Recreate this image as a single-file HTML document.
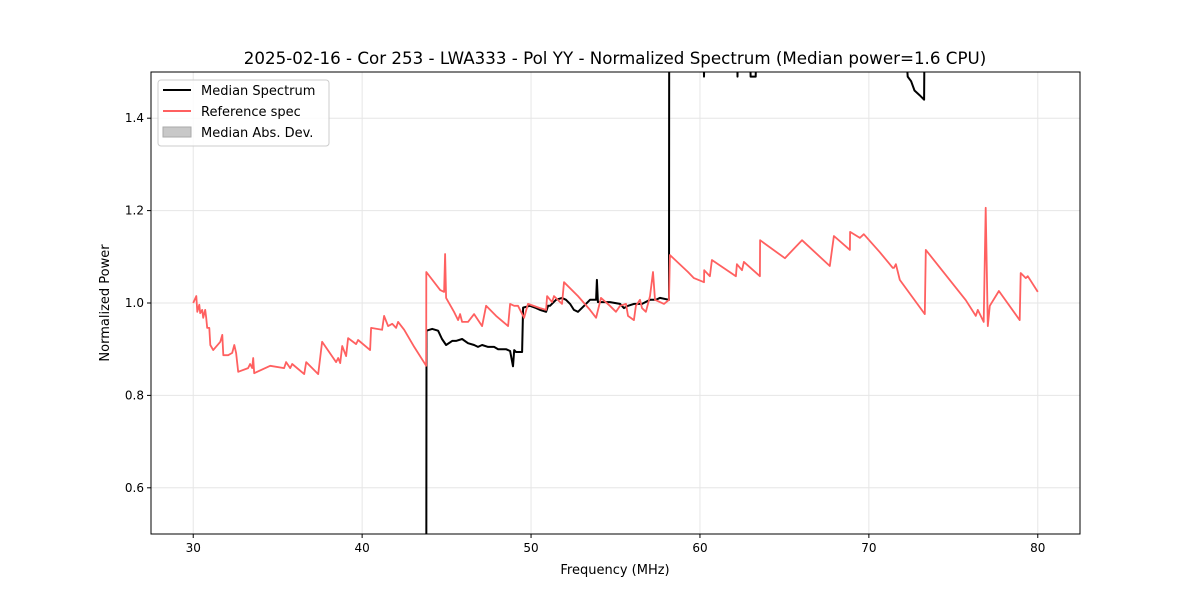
<!DOCTYPE html>
<html><head><meta charset="utf-8"><style>
html,body{margin:0;padding:0;background:#fff;}
svg{display:block;font-family:"DejaVu Sans","Liberation Sans",sans-serif;}
</style></head><body>
<svg id="chart" width="1200" height="600" viewBox="0 0 1200 600" xmlns="http://www.w3.org/2000/svg">
<rect width="1200" height="600" fill="#fff"/>
<defs><clipPath id="plotclip"><rect x="151" y="72" width="929" height="462"/></clipPath></defs>
<g id="grid"></g>
<g id="series" clip-path="url(#plotclip)"></g>
<rect x="151" y="72" width="929" height="462" fill="none" stroke="#000" stroke-width="1"/>
<g id="ticks"></g>
<text x="615" y="64" text-anchor="middle" font-size="16.7">2025-02-16 - Cor 253 - LWA333 - Pol YY - Normalized Spectrum (Median power=1.6 CPU)</text>
<text x="615" y="574" text-anchor="middle" font-size="13">Frequency (MHz)</text>
<text transform="translate(109,303) rotate(-90)" text-anchor="middle" font-size="13">Normalized Power</text>
<g>
<rect x="158" y="80" width="171" height="66" rx="3" fill="#fff" fill-opacity="0.8" stroke="#ccc"/>
<line x1="163" y1="90" x2="191" y2="90" stroke="#000" stroke-width="2"/>
<text x="201" y="95" font-size="13">Median Spectrum</text>
<line x1="163" y1="111" x2="191" y2="111" stroke="#ff6060" stroke-width="2"/>
<text x="201" y="116" font-size="13">Reference spec</text>
<rect x="163" y="127" width="28" height="10" fill="#c8c8c8" stroke="#aaa"/>
<text x="201" y="137" font-size="13">Median Abs. Dev.</text>
</g>
</svg>
<script>
const xTicks=[30,40,50,60,70,80];
const yTicks=[0.6,0.8,1.0,1.2,1.4];
const refFreq=[30.00,30.18,30.24,30.36,30.41,30.53,30.59,30.71,30.77,30.83,30.95,31.01,31.18,31.60,31.72,31.78,32.07,32.31,32.43,32.54,32.66,33.25,33.37,33.49,33.55,33.61,34.56,35.38,35.50,35.74,35.86,36.57,36.69,37.40,37.63,38.46,38.58,38.70,38.82,39.05,39.17,39.64,39.76,40.47,40.53,41.18,41.30,41.54,41.78,42.01,42.13,42.49,43.08,43.79,43.80,44.62,44.85,44.91,44.97,45.44,45.68,45.80,45.92,46.27,46.63,47.10,47.34,47.93,48.64,48.76,49.00,49.23,49.59,49.82,50.53,50.89,50.95,51.24,51.36,51.83,51.95,52.78,53.49,53.85,54.14,54.67,55.03,55.27,55.62,55.74,56.09,56.21,56.45,56.57,56.80,57.04,57.22,57.34,57.87,58.17,58.22,59.29,59.64,60.24,60.25,60.59,60.71,62.13,62.19,62.49,62.60,63.55,63.56,65.03,66.04,67.69,67.93,68.88,68.89,69.47,69.70,70.65,71.42,71.48,71.60,71.83,73.31,73.37,75.74,76.33,76.45,76.80,76.92,77.04,77.16,77.70,78.93,78.99,79.29,79.41,80.00];
const refPower=[1.000,1.015,0.981,0.996,0.978,0.985,0.968,0.985,0.968,0.946,0.946,0.909,0.898,0.916,0.931,0.887,0.887,0.892,0.909,0.892,0.851,0.859,0.868,0.859,0.881,0.848,0.864,0.859,0.872,0.859,0.868,0.846,0.872,0.846,0.916,0.872,0.881,0.870,0.907,0.885,0.924,0.911,0.920,0.898,0.946,0.942,0.972,0.950,0.955,0.946,0.959,0.942,0.905,0.864,1.067,1.028,1.024,1.106,1.011,0.981,0.963,0.976,0.959,0.959,0.976,0.950,0.994,0.972,0.950,0.998,0.994,0.994,0.968,0.998,0.989,0.985,1.015,1.002,1.015,0.998,1.045,1.015,0.985,0.968,1.011,0.994,0.981,0.994,0.998,0.972,0.963,0.994,1.007,0.989,0.981,1.015,1.067,1.007,0.998,1.007,1.104,1.067,1.054,1.045,1.071,1.058,1.093,1.058,1.084,1.071,1.089,1.058,1.136,1.097,1.136,1.080,1.145,1.115,1.154,1.141,1.149,1.110,1.076,1.076,1.084,1.050,0.976,1.115,1.006,0.972,0.985,0.959,1.206,0.950,0.994,1.026,0.963,1.065,1.054,1.058,1.024];
const medFreq=[43.80,43.81,44.15,44.50,44.73,44.97,45.33,45.56,45.92,46.27,46.63,46.86,47.10,47.46,47.81,48.05,48.52,48.76,48.93,49.00,49.11,49.47,49.53,49.94,50.30,50.53,50.89,51.01,51.12,51.48,51.83,52.07,52.31,52.54,52.78,53.14,53.49,53.85,53.90,53.96,54.20,54.67,55.27,55.50,55.74,56.09,56.57,57.04,57.40,57.63,58.17,58.18,60.20,60.24,60.30,62.19,62.22,62.25,62.95,63.00,63.30,63.35,72.10,72.30,72.50,72.70,73.00,73.27,73.30,80.00];
const medPower=[0.40,0.940,0.944,0.940,0.922,0.909,0.918,0.918,0.922,0.913,0.909,0.905,0.909,0.905,0.905,0.900,0.900,0.896,0.863,0.898,0.894,0.894,0.990,0.994,0.989,0.985,0.981,0.994,0.994,1.007,1.011,1.007,0.998,0.985,0.981,0.994,1.007,1.007,1.050,1.002,1.002,1.002,0.998,0.989,0.994,0.998,0.998,1.007,1.007,1.011,1.007,1.60,1.60,1.49,1.60,1.60,1.49,1.60,1.60,1.49,1.49,1.60,1.60,1.49,1.48,1.46,1.45,1.44,1.60,1.60];

const xMin=27.5,xMax=82.5,yMin=0.5,yMax=1.5,L=151,R=1080,T=72,B=534;
function xs(v){return L+(v-xMin)/(xMax-xMin)*(R-L);}
function ys(v){return B-(v-yMin)/(yMax-yMin)*(B-T);}
const NS="http://www.w3.org/2000/svg";
const grid=document.getElementById('grid'),ticks=document.getElementById('ticks'),series=document.getElementById('series');
function mk(tag,attrs,parent){const e=document.createElementNS(NS,tag);for(const k in attrs)e.setAttribute(k,attrs[k]);parent.appendChild(e);return e;}
xTicks.forEach(t=>{
  const x=xs(t);
  const g=mk('line',{x1:x,x2:x,y1:T,y2:B,stroke:'#e6e6e6','stroke-width':1},grid);
  
  
  mk('line',{x1:x,x2:x,y1:B,y2:B+4,stroke:'#000'},ticks);
  const tx=mk('text',{x:x,y:B+18,'text-anchor':'middle','font-size':12},ticks);
  tx.textContent=t;
  
  
});
yTicks.forEach(t=>{
  const y=ys(t);
  const g=mk('line',{x1:L,x2:R,y1:y,y2:y,stroke:'#e6e6e6','stroke-width':1},grid);
  
  
  mk('line',{x1:L-4,x2:L,y1:y,y2:y,stroke:'#000'},ticks);
  const tx=mk('text',{x:L-7,y:y+4,'text-anchor':'end','font-size':12},ticks);
  tx.textContent=t.toFixed(1);
  
  
});
function pts(f,p){return f.map((v,i)=>xs(v).toFixed(1)+','+ys(p[i]).toFixed(1)).join(' ');}
const med=mk('polyline',{points:pts(medFreq,medPower),fill:'none',stroke:'#000','stroke-width':2,'stroke-linejoin':'round'},series);


const ref=mk('polyline',{points:pts(refFreq,refPower),fill:'none',stroke:'#ff6060','stroke-width':1.8,'stroke-linejoin':'round'},series);


</script>
</body></html>
